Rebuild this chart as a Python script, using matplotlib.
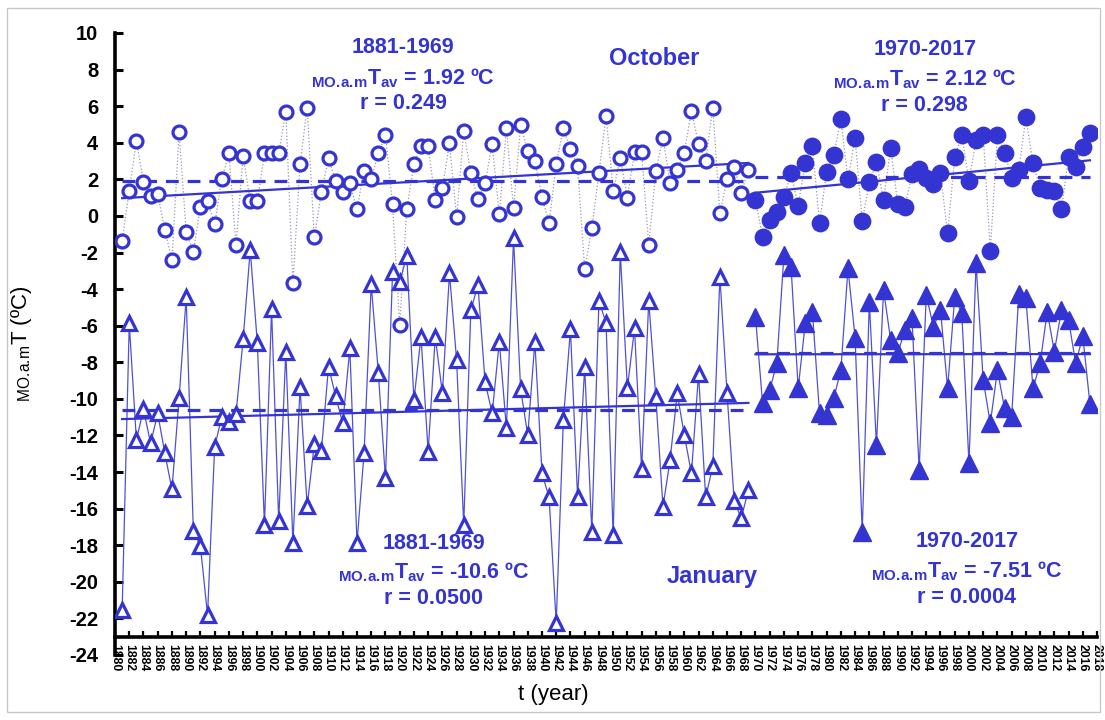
import matplotlib
matplotlib.use("Agg")
import matplotlib.pyplot as plt
import numpy as np
from matplotlib.patches import Rectangle

plt.rcParams["font.family"] = ["Liberation Sans", "DejaVu Sans"]
plt.rcParams["mathtext.fontset"] = "custom"
plt.rcParams["mathtext.rm"] = "Liberation Sans"
plt.rcParams["mathtext.bf"] = "Liberation Sans:bold"
plt.rcParams["mathtext.it"] = "Liberation Sans:italic"
plt.rcParams["axes.unicode_minus"] = False

# October, 1881-1969 and 1970-2017
oct_years_1 = list(range(1881, 1970))
oct_temp_1 = [
    -1.37, 1.38, 4.10, 1.87, 1.09, 1.18, -0.77, -2.41, 4.59, -0.90,
    -1.96, 0.50, 0.81, -0.46, 2.02, 3.42, -1.59, 3.28, 0.81, 0.81,
    3.42, 3.42, 3.42, 5.70, -3.69, 2.82, 5.92, -1.17, 1.29, 3.15,
    1.93, 1.29, 1.78, 0.38, 2.47, 2.00, 3.42, 4.42, 0.63, -5.97,
    0.36, 2.82, 3.82, 3.82, 0.87, 1.51, 3.97, -0.08, 4.64, 2.33,
    0.92, 1.82, 3.91, 0.09, 4.79, 0.41, 4.97, 3.55, 3.00, 1.02,
    -0.37, 2.84, 4.79, 3.66, 2.73, -2.92, -0.68, 2.33, 5.46, 1.38,
    3.15, 1.00, 3.48, 3.48, -1.59, 2.45, 4.28, 1.78, 2.51, 3.46,
    5.75, 3.93, 3.02, 5.92, 0.14, 2.00, 2.69, 1.24, 2.51,
]
oct_years_2 = list(range(1970, 2018))
oct_temp_2 = [
    0.87, -1.14, -0.22, 0.23, 1.05, 2.33, 0.56, 2.91, 3.84, -0.40,
    2.42, 3.33, 5.30, 2.00, 4.24, -0.28, 1.84, 2.93, 0.87, 3.73,
    0.63, 0.51, 2.27, 2.55, 2.05, 1.73, 2.33, -0.95, 3.20, 4.42,
    1.91, 4.15, 4.42, -1.92, 4.42, 3.46, 2.09, 2.51, 5.39, 2.87,
    1.51, 1.42, 1.38, 0.36, 3.24, 2.69, 3.78, 4.51,
]

# January, 1881-1969 and 1970-2017
jan_years_1 = list(range(1881, 1970))
jan_temp_1 = [
    -21.55, -5.87, -12.25, -10.58, -12.43, -10.80, -12.98, -14.95, -9.97, -4.45,
    -17.21, -18.05, -21.82, -12.62, -10.98, -11.25, -10.83, -6.75, -1.86, -6.97,
    -16.90, -5.11, -16.68, -7.42, -17.90, -9.37, -15.86, -12.49, -12.84, -8.24,
    -9.85, -11.34, -7.24, -17.87, -12.95, -3.72, -8.57, -14.35, -3.08, -3.62,
    -2.19, -10.07, -6.60, -12.89, -6.60, -9.70, -3.14, -7.88, -16.90, -5.15,
    -3.78, -9.07, -10.80, -6.88, -11.61, -1.22, -9.48, -11.98, -6.88, -14.07,
    -15.39, -22.27, -11.16, -6.20, -15.39, -8.24, -17.27, -4.65, -5.84, -17.45,
    -1.96, -9.43, -6.15, -13.86, -4.64, -9.92, -15.90, -13.35, -9.70, -11.98,
    -14.07, -8.64, -15.39, -13.67, -3.32, -9.66, -15.57, -16.53, -14.99,
]
jan_years_2 = list(range(1970, 2018))
jan_temp_2 = [
    -5.51, -10.25, -9.52, -8.06, -2.14, -2.78, -9.43, -5.87, -5.24, -10.79,
    -10.89, -9.97, -8.43, -2.87, -6.66, -17.27, -4.69, -12.53, -4.05, -6.79,
    -7.51, -6.24, -5.60, -13.89, -4.32, -6.06, -5.15, -9.43, -4.45, -5.33,
    -13.53, -2.59, -8.97, -11.34, -8.43, -10.52, -10.98, -4.29, -4.51, -9.43,
    -8.06, -5.24, -7.42, -5.15, -5.69, -8.06, -6.57, -10.28,
]

# Period averages and correlation coefficients
oct_mean_1, oct_mean_2 = 1.92, 2.12
jan_mean_1, jan_mean_2 = -10.6, -7.51
oct_r_1, oct_r_2 = "0.249", "0.298"
jan_r_1, jan_r_2 = "0.0500", "0.0004"

blue = "#3434D2"
conn_blue = "#5050D6"
dot_gray = "#9797B8"

fig = plt.figure(figsize=(11.05, 7.2), dpi=100)
ax = fig.add_axes([0.1041, 0.0903, 0.8887, 0.8639])

# connecting lines
ax.plot(oct_years_1, oct_temp_1, color=dot_gray, lw=0.9, ls=":", zorder=2)
ax.plot(oct_years_2, oct_temp_2, color=dot_gray, lw=0.9, ls=":", zorder=2)
ax.plot(jan_years_1, jan_temp_1, color=conn_blue, lw=0.9, zorder=2)
ax.plot(jan_years_2, jan_temp_2, color=conn_blue, lw=0.9, zorder=2)

# markers
ax.plot(oct_years_1, oct_temp_1, ls="none", marker="o", ms=9.3, mew=2.3,
        mfc="white", mec=blue, zorder=4)
ax.plot(oct_years_2, oct_temp_2, ls="none", marker="o", ms=11.8,
        mfc=blue, mec=blue, zorder=4)
ax.plot(jan_years_1, jan_temp_1, ls="none", marker="^", ms=10.5, mew=2.3,
        mfc="white", mec=blue, zorder=4)
ax.plot(jan_years_2, jan_temp_2, ls="none", marker="^", ms=12.8,
        mfc=blue, mec=blue, zorder=4)


def trend_and_mean(years, temps, mean_val):
    x = np.array(years, dtype=float)
    k, b = np.polyfit(x, np.array(temps), 1)
    ax.plot([x[0], x[-1]], [k * x[0] + b, k * x[-1] + b], color=blue, lw=1.6, zorder=3)
    ax.plot([x[0], x[-1]], [mean_val, mean_val], color=blue, lw=2.3,
            ls=(0, (4, 2.8)), zorder=3)


trend_and_mean(oct_years_1, oct_temp_1, oct_mean_1)
trend_and_mean(oct_years_2, oct_temp_2, oct_mean_2)
trend_and_mean(jan_years_1, jan_temp_1, jan_mean_1)
trend_and_mean(jan_years_2, jan_temp_2, jan_mean_2)

# axes styling
ax.set_xlim(1880, 2018)
ax.set_ylim(-24, 10)
ax.set_yticks(np.arange(-24, 11, 2))
ax.set_xticks(np.arange(1880, 2019, 2))
ax.spines["top"].set_visible(False)
ax.spines["right"].set_visible(False)
ax.spines["bottom"].set_position(("data", -23))
ax.spines["left"].set_linewidth(2.6)
ax.spines["bottom"].set_linewidth(2.6)
ax.tick_params(axis="y", direction="in", length=6, width=2.2, pad=12,
               labelsize=14.5)
ax.tick_params(axis="x", direction="in", length=4, width=1.6, pad=5,
               labelsize=8.8, labelrotation=270)
for lab in ax.get_xticklabels() + ax.get_yticklabels():
    lab.set_fontweight("bold")

ax.set_xlabel("t (year)", fontsize=16, labelpad=6)
ax.xaxis.set_label_coords(0.446, -0.047)
ax.set_ylabel(r"${}_{\mathrm{MO.\!a.\!m}}$T (ºC)", fontsize=16)
ax.yaxis.set_label_coords(-0.083, 0.5)

# annotations
tav = r"${}_{\mathbf{MO.\!a.\!m}}\mathbf{T}_{\mathbf{av}}$"
txt = dict(color=blue, fontsize=15.5, fontweight="bold", ha="center", va="center")

ax.text(1920.5, 9.18, "1881-1969", **txt)
ax.text(1920.5, 7.55, f"{tav} = {oct_mean_1:.2f} ºC", **txt)
ax.text(1920.5, 6.12, f"r = {oct_r_1}", **txt)
ax.text(1955.8, 8.63, "October", color=blue, fontsize=17, fontweight="bold",
        ha="center", va="center")

ax.text(1993.8, 9.09, "1970-2017", **txt)
ax.text(1993.8, 7.5, f"{tav} = {oct_mean_2:.2f} ºC", **txt)
ax.text(1993.8, 6.06, f"r = {oct_r_2}", **txt)

ax.text(1924.8, -17.88, "1881-1969", **txt)
ax.text(1924.8, -19.5, f"{tav} = {jan_mean_1:.1f} ºC", **txt)
ax.text(1924.8, -20.89, f"r = {jan_r_1}", **txt)
ax.text(1963.9, -19.69, "January", color=blue, fontsize=17, fontweight="bold",
        ha="center", va="center")

ax.text(1999.7, -17.81, "1970-2017", **txt)
ax.text(1999.7, -19.4, f"{tav} = {jan_mean_2:.2f} ºC", **txt)
ax.text(1999.7, -20.86, f"r = {jan_r_2}", **txt)

# thin frame around the whole figure
fig.patches.append(Rectangle((7 / 1105, 8 / 720), 1093 / 1105, 704 / 720,
                             transform=fig.transFigure, fill=False,
                             edgecolor="#c8c8c8", lw=1))

fig.savefig("out.png", dpi=100)
